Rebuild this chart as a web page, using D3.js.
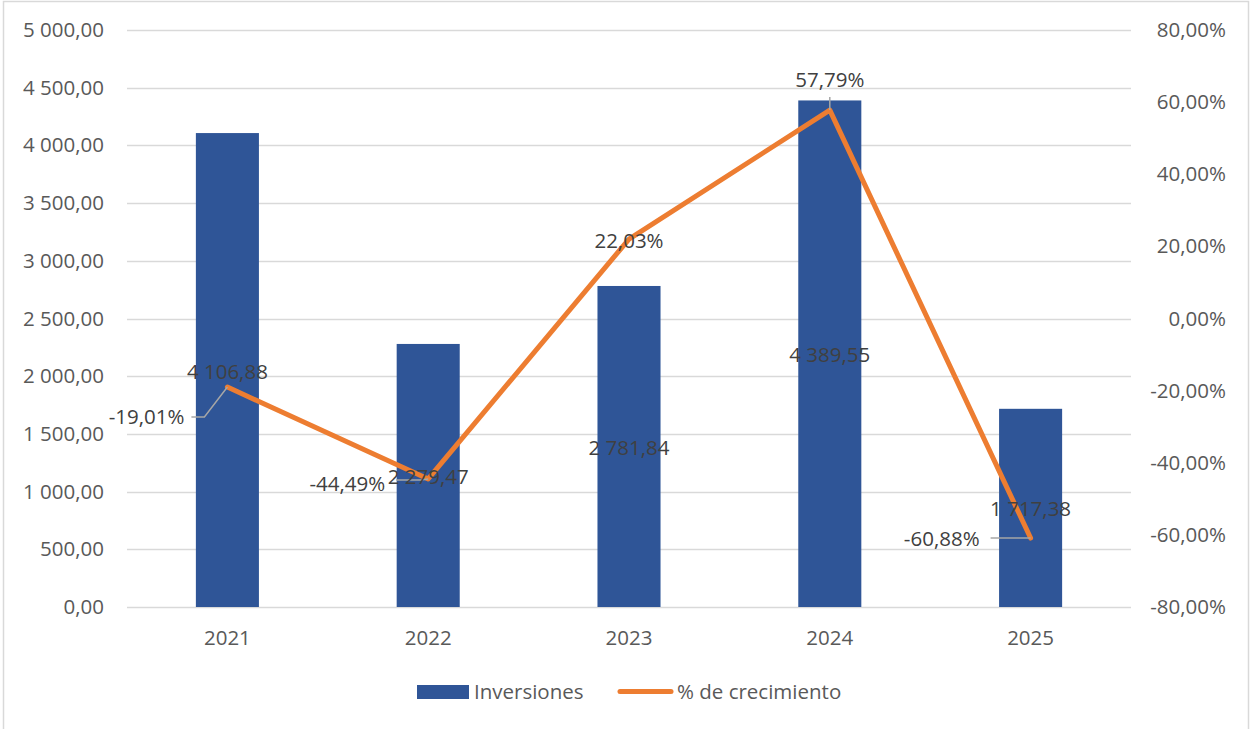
<!DOCTYPE html>
<html>
<head>
<meta charset="utf-8">
<script src="https://cdn.jsdelivr.net/npm/d3@7/dist/d3.min.js"></script>
<style>
  body { margin: 0; background: #fff; }
  svg { display: block; font-family: "Open Sans", "Liberation Sans", sans-serif; }
</style>
</head>
<body>
<svg id="chart" width="1250" height="729"></svg>
<script>
// chart data
const years = ['2021', '2022', '2023', '2024', '2025'];
const inversiones = [4106.88, 2279.47, 2781.84, 4389.55, 1717.38];
const crecimiento = [-19.01, -44.49, 22.03, 57.79, -60.88];
const leftTicks = [0, 500, 1000, 1500, 2000, 2500, 3000, 3500, 4000, 4500, 5000];
const rightTicks = [-80, -60, -40, -20, 0, 20, 40, 60, 80];

// label offsets (Excel placed them by hand)
const barLabelY = [372, 477, 448, 355, 509];
const pctLabels = [
  { dx: -43, dy: 30, anchor: 'end', leader: true },
  { dx: -43, dy: 5, anchor: 'end', leader: true },
  { dx: 0, dy: 2, anchor: 'middle', leader: false },
  { dx: 0, dy: -30, anchor: 'middle', leader: true },
  { dx: -51, dy: 1, anchor: 'end', leader: true }
];

const svg = d3.select('#chart');
const W = 1250, H = 729;
const m = { left: 127, right: 1131, top: 30, bottom: 607 };
const FS = 20.5;

// outer border
svg.append('rect')
  .attr('x', 3.5).attr('y', 1.5)
  .attr('width', W - 5).attr('height', H)
  .attr('fill', '#fff').attr('stroke', '#d9d9d9').attr('stroke-width', 1.5);

const x = d3.scaleBand().domain(years).range([m.left, m.right]).paddingInner(0.686).paddingOuter(0.343);
const yL = d3.scaleLinear().domain([0, 5000]).range([m.bottom, m.top]);
const yR = d3.scaleLinear().domain([-80, 80]).range([m.bottom, m.top]);

const fmtNum = d => d3.format(',.2f')(d).replace(/,/g, ' ').replace('.', ',');
const fmtPct = d => d3.format('.2f')(d).replace('.', ',').replace('\u2212', '-') + '%';

// gridlines
svg.append('g').selectAll('line').data(leftTicks).join('line')
  .attr('x1', m.left).attr('x2', m.right)
  .attr('y1', d => Math.round(yL(d)) + 0.5).attr('y2', d => Math.round(yL(d)) + 0.5)
  .attr('stroke', '#d9d9d9').attr('stroke-width', 1.3);

// left axis labels
svg.append('g').selectAll('text').data(leftTicks).join('text')
  .attr('x', 104).attr('y', d => yL(d) + 7)
  .attr('text-anchor', 'end').attr('font-size', FS).attr('fill', '#595959')
  .text(fmtNum);

// right axis labels
svg.append('g').selectAll('text').data(rightTicks).join('text')
  .attr('x', 1226).attr('y', d => yR(d) + 7)
  .attr('text-anchor', 'end').attr('font-size', FS).attr('fill', '#595959')
  .text(fmtPct);

// x labels
svg.append('g').selectAll('text').data(years).join('text')
  .attr('x', d => x(d) + x.bandwidth() / 2).attr('y', 645)
  .attr('text-anchor', 'middle').attr('font-size', FS).attr('fill', '#595959')
  .text(d => d);

// bars
svg.append('g').selectAll('rect').data(inversiones).join('rect')
  .attr('x', (d, i) => x(years[i])).attr('width', x.bandwidth())
  .attr('y', d => yL(d)).attr('height', d => yL(0) - yL(d))
  .attr('fill', '#2f5597');

// line
const pts = crecimiento.map((d, i) => [x(years[i]) + x.bandwidth() / 2, yR(d)]);
svg.append('path')
  .attr('d', d3.line()(pts))
  .attr('fill', 'none').attr('stroke', '#ed7d31').attr('stroke-width', 5)
  .attr('stroke-linejoin', 'round').attr('stroke-linecap', 'round');

// leader lines for % labels
const leaders = svg.append('g').attr('stroke', '#a6a6a6').attr('stroke-width', 1.5).attr('fill', 'none');
pts.forEach(([px, py], i) => {
  const l = pctLabels[i];
  if (!l.leader) return;
  let d;
  if (i === 0) d = `M${px - 36},${py + 30} H${px - 23} L${px},${py}`;
  else if (i === 1) d = `M${px - 32},${py + 1} H${px - 7} L${px},${py}`;
  else if (i === 3) d = `M${px},${py - 13} V${py}`;
  else d = `M${px - 40},${py} H${px}`;
  leaders.append('path').attr('d', d);
});

// bar value labels
svg.append('g').selectAll('text').data(inversiones).join('text')
  .attr('x', (d, i) => x(years[i]) + x.bandwidth() / 2)
  .attr('y', (d, i) => barLabelY[i] + 7)
  .attr('text-anchor', 'middle').attr('font-size', FS).attr('fill', '#404040')
  .text(fmtNum);

// % labels
svg.append('g').selectAll('text').data(crecimiento).join('text')
  .attr('x', (d, i) => pts[i][0] + pctLabels[i].dx)
  .attr('y', (d, i) => pts[i][1] + pctLabels[i].dy + 7)
  .attr('text-anchor', (d, i) => pctLabels[i].anchor)
  .attr('font-size', FS).attr('fill', '#404040')
  .text(fmtPct);

// legend
const lg = svg.append('g');
lg.append('rect').attr('x', 417).attr('y', 685).attr('width', 52).attr('height', 14).attr('fill', '#2f5597');
lg.append('text').attr('x', 474).attr('y', 699).attr('font-size', FS).attr('fill', '#595959').text('Inversiones');
lg.append('line').attr('x1', 620).attr('x2', 671).attr('y1', 691.5).attr('y2', 691.5)
  .attr('stroke', '#ed7d31').attr('stroke-width', 5).attr('stroke-linecap', 'round');
lg.append('text').attr('x', 677).attr('y', 699).attr('font-size', FS).attr('fill', '#595959').text('% de crecimiento');
</script>
</body>
</html>
